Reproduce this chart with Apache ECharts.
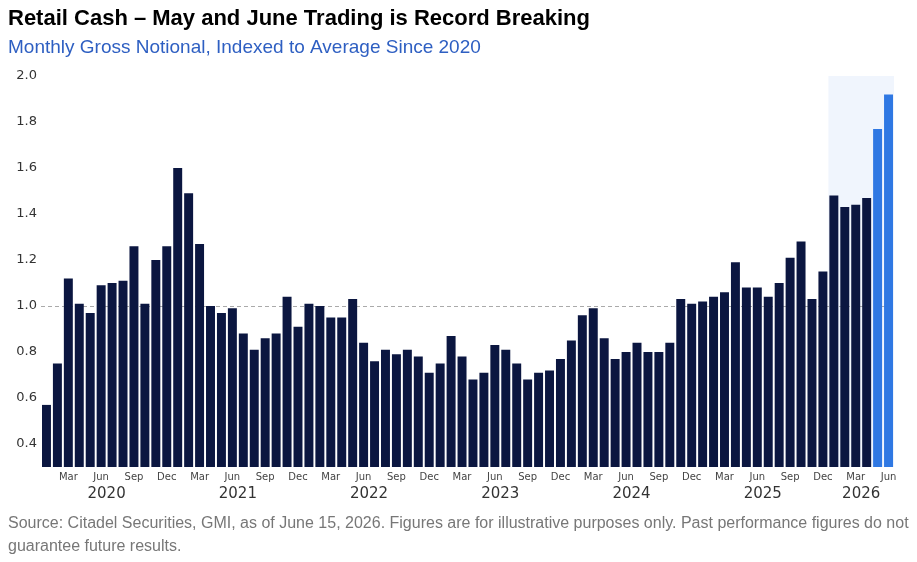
<!DOCTYPE html>
<html>
<head>
<meta charset="utf-8">
<script src="https://cdn.jsdelivr.net/npm/echarts@6/dist/echarts.min.js"></script>
<style>
  html, body { margin: 0; padding: 0; background: #fff; }
  #chart { width: 917px; height: 562px; }
</style>
</head>
<body>
<div id="chart"></div>
<script>
// monthly gross notional, indexed to average since 2020 (Jan 2020 - Jun 2026)
const values = [
  0.57, 0.75, 1.12, 1.01, 0.97, 1.09, 1.10, 1.11, 1.26, 1.01, 1.20, 1.26,
  1.60, 1.49, 1.27, 1.00, 0.97, 0.99, 0.88, 0.81, 0.86, 0.88, 1.04, 0.91,
  1.01, 1.00, 0.95, 0.95, 1.03, 0.84, 0.76, 0.81, 0.79, 0.81, 0.78, 0.71,
  0.75, 0.87, 0.78, 0.68, 0.71, 0.83, 0.81, 0.75, 0.68, 0.71, 0.72, 0.77,
  0.85, 0.96, 0.99, 0.86, 0.77, 0.80, 0.84, 0.80, 0.80, 0.84, 1.03, 1.01,
  1.02, 1.04, 1.06, 1.19, 1.08, 1.08, 1.04, 1.10, 1.21, 1.28, 1.03, 1.15,
  1.48, 1.43, 1.44, 1.47, 1.77, 1.92
]
const years = ['2020', '2021', '2022', '2023', '2024', '2025', '2026']
const monthNames = ['Jan', 'Feb', 'Mar', 'Apr', 'May', 'Jun', 'Jul', 'Aug', 'Sep', 'Oct', 'Nov', 'Dec']
const monthTicks = ['Mar', 'Jun', 'Sep', 'Dec']
const highlightFrom = '2026-05'   // record months in bright blue
const shadeFrom = '2026-01'
const shadeTo = '2026-06'

const categories = []
years.forEach((y) => monthNames.forEach((m, i) => {
  const key = y + '-' + String(i + 1).padStart(2, '0')
  if (categories.length < values.length) categories.push(key)
}))

// year label sits in the middle of the months it covers
const yearPos = {}
years.forEach((y) => {
  const idx = categories.map((c, i) => (c.startsWith(y) ? i : -1)).filter((i) => i >= 0)
  yearPos[(idx[0] + idx[idx.length - 1] + 1) / 2] = y
})

const NAVY = '#0b1640'
const BLUE = '#2f78e3'
const hiIndex = categories.indexOf(highlightFrom)

const chart = echarts.init(document.getElementById('chart'))
chart.setOption({
  animation: false,
  title: [
    {
      text: 'Retail Cash \u2013 May and June Trading is Record Breaking',
      subtext: 'Monthly Gross Notional, Indexed to Average Since 2020',
      left: 8,
      top: 8,
      padding: 0,
      itemGap: 8,
      textStyle: { fontFamily: 'Liberation Sans', fontSize: 22, fontWeight: 'bold', color: '#000' },
      subtextStyle: { fontFamily: 'Liberation Sans', fontSize: 19, color: '#2e5fc2' },
    },
    {
      text: 'Source: Citadel Securities, GMI, as of June 15, 2026. Figures are for illustrative purposes only. Past performance figures do not\nguarantee future results.',
      left: 8,
      top: 512,
      padding: 0,
      textStyle: { fontFamily: 'Liberation Sans', fontSize: 16, fontWeight: 'normal', color: '#777', lineHeight: 23 },
    },
  ],
  grid: { left: 41, right: 23, top: 76, bottom: 95 },
  xAxis: [
    {
      type: 'category',
      data: categories,
      axisLine: { show: false },
      axisTick: { show: false },
      axisLabel: {
        interval: (i) => monthTicks.includes(monthNames[i % 12]),
        formatter: (v) => monthNames[Number(v.slice(5)) - 1],
        fontFamily: 'DejaVu Sans',
        fontSize: 10,
        color: '#444',
        margin: 5,
      },
    },
    {
      type: 'value',
      position: 'bottom',
      min: 0,
      max: categories.length,
      interval: 3,
      axisLine: { show: false },
      axisTick: { show: false },
      splitLine: { show: false },
      axisLabel: {
        formatter: (v) => yearPos[v] || '',
        fontFamily: 'DejaVu Sans',
        fontSize: 15,
        color: '#333',
        margin: 20,
        showMinLabel: false,
        showMaxLabel: false,
      },
    },
  ],
  yAxis: {
    type: 'value',
    min: 0.3,
    max: 2.0,
    interval: 0.1,
    axisLine: { show: false },
    axisTick: { show: false },
    splitLine: { show: false },
    axisLabel: {
      formatter: (v) => {
        const r = Math.round(v * 10)
        return r % 2 === 0 ? (r / 10).toFixed(1) : ''
      },
      fontFamily: 'DejaVu Sans',
      fontSize: 13,
      color: '#333',
      margin: 4,
    },
  },
  series: [
    {
      // reference line and shaded window, on the month-count axis so the
      // shading covers whole month bands
      type: 'line',
      xAxisIndex: 1,
      data: [],
      z: 1,
      silent: true,
      markLine: {
        silent: true,
        z: 1,
        symbol: 'none',
        label: { show: false },
        lineStyle: { color: '#aaa', type: [4, 3], width: 1 },
        data: [{ yAxis: 1.0 }],
      },
      markArea: {
        silent: true,
        z: 0,
        itemStyle: { color: '#f0f5fd' },
        data: [[
          { xAxis: categories.indexOf(shadeFrom) },
          { xAxis: categories.indexOf(shadeTo) + 1 },
        ]],
      },
    },
    {
      type: 'bar',
      z: 3,
      data: values,
      barCategoryGap: '18%',
      itemStyle: {
        color: (p) => (p.dataIndex >= hiIndex ? BLUE : NAVY),
      },
    },
  ],
})
</script>
</body>
</html>
